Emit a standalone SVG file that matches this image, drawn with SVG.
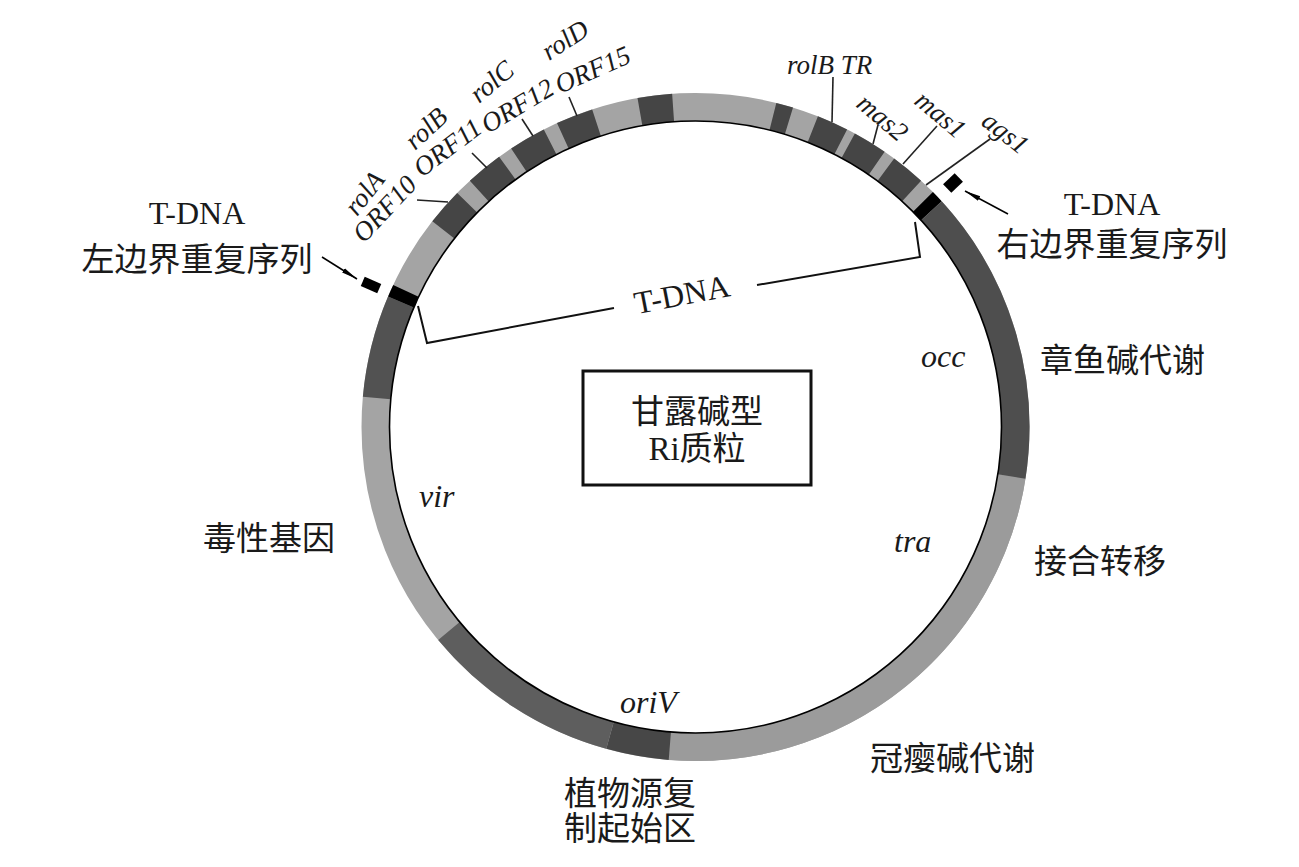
<svg xmlns="http://www.w3.org/2000/svg" width="1299" height="867" viewBox="0 0 1299 867">
<defs>
<style>
.seg{fill:none;stroke-width:28}
.t{font-family:'Liberation Serif','Noto Sans CJK SC',serif;fill:#1a1a1a}
.zh{font-size:33px}
.it{font-family:'Liberation Serif',serif;font-style:italic;fill:#1a1a1a}
.g{font-size:27px}
.lbl{font-size:32px}
.ln{fill:none;stroke:#111;stroke-width:2}
.ld{fill:none;stroke:#222;stroke-width:1.6}
</style>
<marker id="ah" markerUnits="userSpaceOnUse" markerWidth="18" markerHeight="8" refX="16" refY="4" orient="auto">
<path d="M0,1.5 L16,4 L0,6.5 z" fill="#000"/>
</marker>
</defs>
<rect width="1299" height="867" fill="#fff"/>

<g id="plasmid-ring" transform="translate(695.5 427)">
<circle class="seg" r="320" stroke="#a4a4a4"/>
<circle class="seg" r="320" pathLength="360" stroke-dasharray="85.7 400" transform="rotate(8.9)" stroke="#9b9b9b"/>
<circle class="seg" r="320" pathLength="360" stroke-dasharray="17.8 400" transform="rotate(185.2)" stroke="#525252"/>
<circle class="seg" r="320" pathLength="360" stroke-dasharray="2.2 400" transform="rotate(203)" stroke="#000"/>
<circle class="seg" r="320" pathLength="360" stroke-dasharray="6.5 400" transform="rotate(218)" stroke="#454545"/>
<circle class="seg" r="320" pathLength="360" stroke-dasharray="6.5 400" transform="rotate(227.5)" stroke="#454545"/>
<circle class="seg" r="320" pathLength="360" stroke-dasharray="6.5 400" transform="rotate(236.5)" stroke="#454545"/>
<circle class="seg" r="320" pathLength="360" stroke-dasharray="6.5 400" transform="rotate(245.5)" stroke="#454545"/>
<circle class="seg" r="320" pathLength="360" stroke-dasharray="6 400" transform="rotate(260)" stroke="#454545"/>
<circle class="seg" r="320" pathLength="360" stroke-dasharray="3 400" transform="rotate(-76)" stroke="#454545"/>
<circle class="seg" r="320" pathLength="360" stroke-dasharray="5.5 400" transform="rotate(-68.5)" stroke="#454545"/>
<circle class="seg" r="320" pathLength="360" stroke-dasharray="6 400" transform="rotate(-61.5)" stroke="#454545"/>
<circle class="seg" r="320" pathLength="360" stroke-dasharray="6 400" transform="rotate(-53.5)" stroke="#454545"/>
<circle class="seg" r="320" pathLength="360" stroke-dasharray="2.2 400" transform="rotate(-44.7)" stroke="#000"/>
<circle class="seg" r="320" pathLength="360" stroke-dasharray="51.4 400" transform="rotate(-42.5)" stroke="#4e4e4e"/>
<circle class="seg" r="320" pathLength="360" stroke-dasharray="10.9 400" transform="rotate(94.6)" stroke="#474747"/>
<circle class="seg" r="320" pathLength="360" stroke-dasharray="34.9 400" transform="rotate(105.5)" stroke="#5e5e5e"/>
<circle r="306" fill="none" stroke="#000" stroke-width="1.6"/>
</g>

<g id="border-markers">
<rect x="-9" y="-5" width="18" height="10" fill="#000" transform="translate(371 285) rotate(23.6)"/>
<rect x="-8" y="-6" width="16" height="12" fill="#000" transform="translate(953 183) rotate(-43.5)"/>
</g>

<g id="connectors">
<line x1="322" y1="257" x2="357" y2="279" stroke="#000" stroke-width="1.5" marker-end="url(#ah)"/>
<line x1="1008" y1="214" x2="965" y2="191" stroke="#000" stroke-width="1.5" marker-end="url(#ah)"/>
<polyline class="ln" points="418,306 427,343 614,308"/>
<polyline class="ln" points="915,222 920,257 757,285"/>
<line class="ld" x1="417" y1="200" x2="448" y2="202"/>
<line class="ld" x1="472" y1="153" x2="487" y2="168"/>
<line class="ld" x1="522" y1="119" x2="533" y2="136"/>
<line class="ld" x1="569" y1="97" x2="577" y2="116"/>
<line class="ld" x1="833" y1="77" x2="832" y2="122"/>
<line class="ld" x1="878" y1="125" x2="873" y2="144"/>
<line class="ld" x1="937" y1="126" x2="903" y2="164"/>
<line class="ld" x1="990" y1="139" x2="926" y2="185"/>
</g>

<g id="gene-labels">
<text class="it g" transform="translate(357 217) rotate(-52)">rolA</text>
<text class="it g" transform="translate(364 244) rotate(-47)">ORF10</text>
<text class="it g" transform="translate(415 151) rotate(-43)">rolB</text>
<text class="it g" transform="translate(422 178) rotate(-37)">ORF11</text>
<text class="it g" transform="translate(479 104) rotate(-40)">rolC</text>
<text class="it g" transform="translate(488 134) rotate(-31)">ORF12</text>
<text class="it g" transform="translate(549 61) rotate(-33)">rolD</text>
<text class="it g" transform="translate(560 94) rotate(-24)">ORF15</text>
<text class="it g" x="787" y="74">rolB TR</text>
<text class="it g" transform="translate(855 106) rotate(40)">mas2</text>
<text class="it g" transform="translate(913 103) rotate(40)">mas1</text>
<text class="it g" transform="translate(980 124) rotate(38)">ags1</text>
</g>

<g id="left-border-label">
<text class="t lbl" x="197" y="224" text-anchor="middle">T-DNA</text>
<text class="t zh" x="197" y="271" text-anchor="middle">左边界重复序列</text>
</g>
<g id="right-border-label">
<text class="t lbl" x="1112" y="215" text-anchor="middle">T-DNA</text>
<text class="t zh" x="1112" y="256" text-anchor="middle">右边界重复序列</text>
</g>
<g id="tdna-label">
<text class="t lbl" text-anchor="middle" transform="translate(684 305) rotate(-11)">T-DNA</text>
</g>
<g id="center-box">
<rect x="583" y="371" width="228" height="114" fill="none" stroke="#111" stroke-width="3"/>
<text class="t zh" x="697" y="423" text-anchor="middle">甘露碱型</text>
<text class="t zh" x="697" y="460" text-anchor="middle">Ri质粒</text>
</g>
<g id="occ">
<text class="it lbl" x="921" y="367">occ</text>
<text class="t zh" x="1040" y="372">章鱼碱代谢</text>
</g>
<g id="tra">
<text class="it lbl" x="894" y="552">tra</text>
<text class="t zh" x="1034" y="573">接合转移</text>
</g>
<g id="vir">
<text class="it lbl" x="419" y="507">vir</text>
<text class="t zh" x="203" y="550">毒性基因</text>
</g>
<g id="oriV">
<text class="it lbl" x="620" y="713">oriV</text>
<text class="t zh" x="564" y="805">植物源复</text>
<text class="t zh" x="564" y="840">制起始区</text>
</g>
<g id="agrocinopine">
<text class="t zh" x="870" y="770">冠瘿碱代谢</text>
</g>
</svg>
